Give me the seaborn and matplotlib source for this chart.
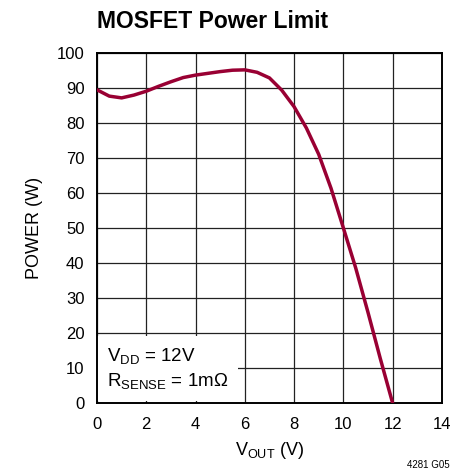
import matplotlib
matplotlib.use("Agg")
import matplotlib.pyplot as plt
from matplotlib import font_manager
import pandas as pd
import seaborn as sns

# values
vout = [0, 0.5, 1, 1.5, 2, 2.5, 3, 3.5, 4, 4.5, 5, 5.5, 6, 6.5, 7, 7.5,
        8, 8.5, 9, 9.5, 10, 10.5, 11, 11.5, 12]
power = [89.4, 87.6, 87.1, 87.9, 89.0, 90.4, 91.7, 92.9, 93.6, 94.1, 94.6, 95.0,
         95.1, 94.4, 92.8, 89.3, 84.6, 78.5, 71.0, 61.3, 50.0, 38.6, 25.9, 12.7, 0.0]
x_ticks = list(range(0, 15, 2))
y_ticks = list(range(0, 101, 10))

df = pd.DataFrame({"vout": vout, "power": power})

sns.set_theme(style="whitegrid")
names = {f.name for f in font_manager.fontManager.ttflist}
narrow = "Liberation Sans Narrow" if "Liberation Sans Narrow" in names else "Liberation Sans"
plt.rcParams["font.family"] = [narrow, "DejaVu Sans"]
plt.rcParams["mathtext.fontset"] = "custom"
plt.rcParams["mathtext.rm"] = narrow
plt.rcParams["mathtext.it"] = narrow

fig = plt.figure(figsize=(4.56, 4.73), dpi=100)
ax = fig.add_axes([0.2127, 0.148, 0.969 - 0.2127, 0.8886 - 0.148])

sns.lineplot(data=df, x="vout", y="power", color="#990033", linewidth=2.5, ax=ax, zorder=3)

ax.set_xlim(0, 14)
ax.set_ylim(0, 100)
ax.set_xticks(x_ticks)
ax.set_yticks(y_ticks)
ax.grid(True, color="#222222", linewidth=0.9)
for s in ax.spines.values():
    s.set_color("black")
    s.set_linewidth(1.4)
ax.tick_params(axis="both", labelsize=12, colors="black", length=0)
ax.tick_params(axis="x", pad=10)
ax.tick_params(axis="y", pad=9)
ax.set_xlabel(r"V$_{\mathregular{OUT}}$ (V)", fontsize=13, color="black", labelpad=6)
ax.set_ylabel("POWER (W)", fontsize=13, color="black", labelpad=10)

ax.text(0.4, 9.8, r"V$_{\mathregular{DD}}$ = 12V" + "\n" + r"R$_{\mathregular{SENSE}}$ = 1m$\Omega$",
        fontsize=13.5, color="black", va="center", ha="left", linespacing=1.35, zorder=2,
        bbox=dict(facecolor="white", edgecolor="none", pad=7))

fig.text(97 / 456, 1 - 21 / 473, "MOSFET Power Limit", fontsize=16.5, fontweight="bold",
         ha="left", va="center", color="black")
fig.text(450 / 456, 1 - 465 / 473, "4281 G05", fontsize=7, ha="right", va="center", color="black")

fig.savefig("out.png", dpi=100)
